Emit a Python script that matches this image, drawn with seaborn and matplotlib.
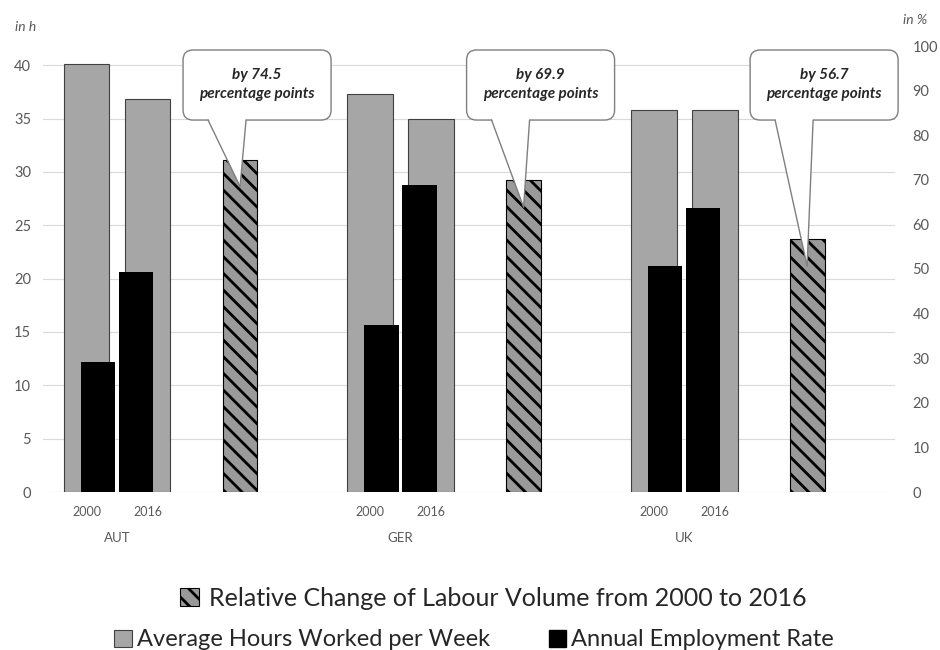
import matplotlib
matplotlib.use("Agg")
import matplotlib.pyplot as plt
import numpy as np
import seaborn as sns
from matplotlib.patches import FancyBboxPatch, Patch, Polygon

# ---------------------------------------------------------------------------
# Data
# ---------------------------------------------------------------------------
countries = ["AUT", "GER", "UK"]
years = ["2000", "2016"]
hours_2000 = [40.1, 37.3, 35.8]        # left axis, in h
hours_2016 = [36.8, 35.0, 35.8]
employment_2000 = [29.1, 37.4, 50.7]   # right axis, in %
employment_2016 = [49.3, 68.8, 63.7]
labour_change = [74.5, 69.9, 56.7]     # right axis, in %
hour_ticks = list(range(0, 45, 5))
pct_ticks = list(range(0, 110, 10))

# ---------------------------------------------------------------------------
# Styling / layout
# ---------------------------------------------------------------------------
sns.set_theme(style="white")
plt.rcParams["font.family"] = ["Lato", "DejaVu Sans"]
plt.rcParams["hatch.linewidth"] = 2.0

GRAY = "#a6a6a6"
HATCH_FACE = "#9a9a9a"
TICK_COLOR = "#595959"
GRAY_OFF, GRAY_W = 0.1076, 0.162
BLACK_OFF, BLACK_W = 0.067, 0.123
HATCH_OFF, HATCH_W = 0.434, 0.123
PX_X = 283.5   # pixels per x unit
PX_Y = 4.46    # pixels per percent

fig = plt.figure(figsize=(9.4, 6.5), dpi=100)
ax = fig.add_axes([43 / 940, 1 - 492 / 650, (895 - 43) / 940, (492 - 46) / 650])
ax2 = ax.twinx()

x = np.arange(len(countries))

# grey bars: average hours (left axis)
ax.bar(x - GRAY_OFF, hours_2000, GRAY_W, color=GRAY, edgecolor="#404040", linewidth=0.8)
ax.bar(x + GRAY_OFF, hours_2016, GRAY_W, color=GRAY, edgecolor="#404040", linewidth=0.8)

# black bars: employment rate (right axis)
ax2.bar(x - BLACK_OFF, employment_2000, BLACK_W, color="black", linewidth=0)
ax2.bar(x + BLACK_OFF, employment_2016, BLACK_W, color="black", linewidth=0)

# hatched bars: relative change of labour volume (right axis)
ax2.bar(x + HATCH_OFF, labour_change, HATCH_W, color=HATCH_FACE, edgecolor="black",
        hatch="\\\\", linewidth=0.8)

ax.set_xlim(-0.261, 2.744)
ax.set_ylim(0, 41.8)
ax2.set_ylim(0, 100)

ax.set_yticks(hour_ticks)
ax2.set_yticks(pct_ticks)
ax.tick_params(axis="y", length=0, pad=8.5, labelsize=10.5, labelcolor=TICK_COLOR)
ax2.tick_params(axis="y", length=0, pad=12.5, labelsize=10.5, labelcolor=TICK_COLOR)

ax.yaxis.grid(True, color="#d9d9d9", linewidth=0.8)
ax.set_axisbelow(True)
ax2.grid(False)
for a in (ax, ax2):
    for s in a.spines.values():
        s.set_visible(False)

# x labels: years under each grey bar, country under each pair
year_pos = np.concatenate([x - GRAY_OFF, x + GRAY_OFF])
year_lab = [years[0]] * len(x) + [years[1]] * len(x)
ax.set_xticks(year_pos)
ax.set_xticklabels(year_lab)
ax.tick_params(axis="x", length=0, pad=10, labelsize=9, labelcolor=TICK_COLOR)
for xi, c in zip(x, countries):
    ax.text(xi, -46 / 446, c, transform=ax.get_xaxis_transform(), ha="center",
            va="center", fontsize=9.5, color=TICK_COLOR)

fig.text(15 / 940, 1 - 27 / 650, "in h", fontsize=10, style="italic",
         color=TICK_COLOR, va="center")
fig.text(903 / 940, 1 - 20 / 650, "in %", fontsize=10, style="italic",
         color=TICK_COLOR, va="center")

# speech-bubble callouts above hatched bars
EDGE = "#7f7f7f"
for xi, v in zip(x, labour_change):
    cx = xi + HATCH_OFF
    x0, x1 = cx - 57 / PX_X, cx + 91 / PX_X
    y0, y1 = 83.4, 99.1
    box = FancyBboxPatch((x0, y0), x1 - x0, y1 - y0,
                         boxstyle="round,pad=0,rounding_size=0.035",
                         mutation_aspect=PX_X / PX_Y, facecolor="white",
                         edgecolor=EDGE, linewidth=1, clip_on=False, zorder=5)
    ax2.add_patch(box)
    bl, br = cx - 32 / PX_X, cx + 6 / PX_X
    tip = (cx, v - 6)
    ax2.add_patch(Polygon([(bl, y0 + 0.5), (br, y0 + 0.5), tip], closed=True,
                          facecolor="white", edgecolor="none", zorder=6, clip_on=False))
    ax2.plot([bl, tip[0]], [y0, tip[1]], color=EDGE, lw=1, zorder=7, clip_on=False)
    ax2.plot([br, tip[0]], [y0, tip[1]], color=EDGE, lw=1, zorder=7, clip_on=False)
    ax2.text((x0 + x1) / 2, (y0 + y1) / 2 + 0.1, f"by {v}\npercentage points",
             ha="center", va="center", fontsize=11, fontweight="bold",
             style="italic", color="#262626", linespacing=1.45, zorder=8)

# legend
h_change = Patch(facecolor=HATCH_FACE, edgecolor="black", hatch="\\\\", linewidth=0.8)
h_hours = Patch(facecolor=GRAY, edgecolor="#404040", linewidth=0.8)
h_emp = Patch(facecolor="black", edgecolor="black")
fig.legend([h_change], ["Relative Change of Labour Volume from 2000 to 2016"],
           loc="center", bbox_to_anchor=(493 / 940, 1 - 598 / 650), frameon=False,
           fontsize=18, handlelength=0.75, handleheight=0.75, handletextpad=0.4,
           labelcolor="#262626")
fig.legend([h_hours, h_emp], ["Average Hours Worked per Week", "Annual Employment Rate"],
           loc="center", bbox_to_anchor=(474 / 940, 1 - 640 / 650), frameon=False,
           fontsize=17, ncol=2, handlelength=0.75, handleheight=0.75, handletextpad=0.2,
           columnspacing=2.5, labelcolor="#262626")

fig.savefig("out.png", dpi=100)
